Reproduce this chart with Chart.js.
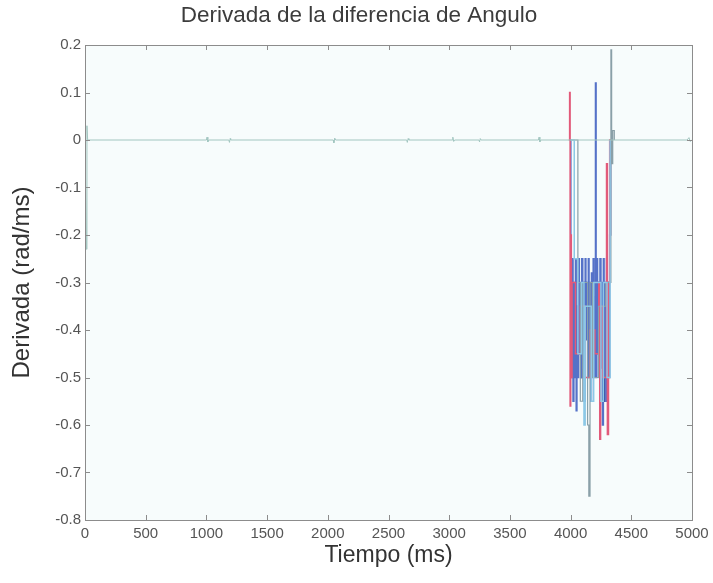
<!DOCTYPE html>
<html>
<head>
<meta charset="utf-8">
<script src="https://cdn.jsdelivr.net/npm/chart.js@4.4.1/dist/chart.umd.min.js"></script>
<style>
  html, body { margin: 0; padding: 0; background: #ffffff; }
  #wrap { width: 713px; height: 583px; }
</style>
</head>
<body>
<div id="wrap"><canvas id="c" width="713" height="583"></canvas></div>
<script>
// ---- data ----
const xTicks = [0, 500, 1000, 1500, 2000, 2500, 3000, 3500, 4000, 4500, 5000];
const yTicks = [0.2, 0.1, 0, -0.1, -0.2, -0.3, -0.4, -0.5, -0.6, -0.7, -0.8];

// baseline series (near zero over the whole record)
const baseTime = [0, 12, 16, 22, 30, 1000, 1005, 1012, 1020, 1185, 1190, 1196, 1200, 2045, 2050, 2057, 2065, 2650, 2655, 2662, 2668, 3025, 3030, 3037, 3045, 3245, 3250, 3256, 3262, 3735, 3740, 3747, 3755, 4960, 4975, 4985, 5000];
const baseVal  = [0, -0.23, 0.03, 0, 0, 0, 0.006, -0.004, 0, 0, -0.005, 0.003, 0, 0, -0.006, 0.004, 0, 0, -0.005, 0.003, 0, 0, 0.006, -0.003, 0, 0, -0.004, 0.003, 0, 0, 0.006, -0.004, 0, 0, 0.005, -0.003, 0];

// cluster series around 4000-4350 ms
const blueTime = [3995, 4002, 4008, 4015, 4020, 4027, 4033, 4040, 4046, 4052, 4060, 4066, 4072, 4080, 4086, 4092, 4100, 4106, 4112, 4120, 4126, 4132, 4140, 4146, 4152, 4160, 4166, 4172, 4180, 4186, 4192, 4200, 4205, 4210, 4216, 4222, 4230, 4236, 4242, 4250, 4256, 4262, 4270, 4276, 4282, 4290, 4296, 4302, 4310, 4316, 4322, 4330, 4340];
const blueVal  = [0, -0.38, -0.5, -0.25, -0.55, -0.3, -0.5, -0.25, -0.57, -0.35, -0.5, -0.25, -0.45, -0.3, -0.5, -0.25, -0.48, -0.3, -0.55, -0.25, -0.42, -0.3, -0.5, -0.25, -0.45, -0.3, -0.55, -0.28, -0.45, -0.25, -0.4, -0.5, 0.12, -0.5, -0.25, -0.45, -0.3, -0.5, -0.25, -0.48, -0.3, -0.6, -0.25, -0.5, -0.3, -0.55, -0.25, -0.45, -0.3, -0.5, -0.2, 0, 0];

const navyTime = [4040, 4055, 4070, 4085, 4100, 4115, 4130, 4145, 4160, 4175, 4190, 4205, 4220, 4235, 4250, 4265, 4280, 4295, 4310];
const navyVal  = [-0.35, -0.45, -0.32, -0.5, -0.38, -0.3, -0.42, -0.35, -0.5, -0.33, -0.45, -0.4, -0.3, -0.45, -0.35, -0.55, -0.4, -0.3, -0.35];

const redTime = [3985, 3992, 3996, 4001, 4006, 4012, 4040, 4080, 4120, 4160, 4200, 4232, 4240, 4247, 4265, 4296, 4303, 4312, 4322, 4340];
const redVal  = [0, 0.1, -0.56, -0.2, -0.5, -0.3, -0.45, -0.35, -0.5, -0.4, -0.45, -0.3, -0.63, -0.35, -0.5, -0.05, -0.62, -0.3, 0, 0];

const greyTime = [3995, 4060, 4080, 4100, 4140, 4150, 4160, 4180, 4230, 4290, 4322, 4332, 4338, 4347, 4360];
const greyVal  = [0, -0.3, -0.55, -0.3, -0.6, -0.75, -0.3, -0.5, -0.35, -0.3, -0.3, 0.19, -0.05, 0.02, 0];

const cyanTime = [4005, 4030, 4060, 4090, 4110, 4120, 4170, 4190, 4250, 4270, 4300, 4325];
const cyanVal  = [0, -0.25, -0.45, -0.3, -0.6, -0.35, -0.55, -0.3, -0.55, -0.3, -0.5, 0];

function pts(t, v) { return t.map((x, i) => ({ x: x, y: v[i] })); }

const FONT = "'Liberation Sans', Arial, sans-serif";

// MATLAB-like box with inward ticks, positions from the chart's own scales
const boxTicks = {
  id: 'boxTicks',
  afterDraw(chart) {
    const { ctx, chartArea: a, scales: { x, y } } = chart;
    ctx.save();
    ctx.strokeStyle = '#8c8c8c';
    ctx.lineWidth = 1;
    ctx.strokeRect(a.left + 0.5, a.top + 0.5, a.right - a.left, a.bottom - a.top);
    ctx.beginPath();
    const L = 5;
    xTicks.forEach(v => {
      const px = Math.round(x.getPixelForValue(v)) + 0.5;
      ctx.moveTo(px, a.bottom); ctx.lineTo(px, a.bottom - L);
      ctx.moveTo(px, a.top); ctx.lineTo(px, a.top + L);
    });
    yTicks.forEach(v => {
      const py = Math.round(y.getPixelForValue(v)) + 0.5;
      ctx.moveTo(a.left, py); ctx.lineTo(a.left + L, py);
      ctx.moveTo(a.right, py); ctx.lineTo(a.right - L, py);
    });
    ctx.stroke();
    ctx.restore();
  }
};

const areaBg = {
  id: 'areaBg',
  beforeDraw(chart) {
    const { ctx, chartArea: a } = chart;
    ctx.save();
    ctx.fillStyle = '#ffffff';
    ctx.fillRect(0, 0, chart.width, chart.height);
    ctx.fillStyle = '#f7fcfc';
    ctx.fillRect(a.left, a.top, a.right - a.left, a.bottom - a.top);
    ctx.restore();
  }
};

function ds(label, data, color, w, stepped) {
  return { label, data, borderColor: color, backgroundColor: color, borderWidth: w, pointRadius: 0, tension: 0, fill: false, stepped: stepped };
}

new Chart(document.getElementById('c'), {
  type: 'line',
  data: {
    datasets: [
      ds('base', pts(baseTime, baseVal), '#a2c6c0', 1, false),
      ds('cyan', pts(cyanTime, cyanVal), '#8cc8e6', 1.5, true),
      ds('grey', pts(greyTime, greyVal), '#8aa0a8', 1.2, true),
      ds('red', pts(redTime, redVal), '#e25a7a', 1.5, true),
      ds('blue', pts(blueTime, blueVal), '#5572c8', 1.5, true),
      ds('navy', pts(navyTime, navyVal), '#34489c', 1.5, true)
    ]
  },
  options: {
    responsive: false,
    animation: false,
    layout: { padding: { left: 26, right: 21, top: 0, bottom: 0 } },
    plugins: {
      legend: { display: false },
      tooltip: { enabled: false },
      title: {
        display: true,
        text: 'Derivada de la diferencia de Angulo',
        color: '#3c3c3c',
        font: { family: FONT, size: 22.5, weight: 'normal' },
        padding: { top: 2, bottom: 16 }
      }
    },
    scales: {
      x: {
        type: 'linear',
        min: 0, max: 5000,
        afterBuildTicks(s) { s.ticks = xTicks.map(v => ({ value: v })); },
        afterFit(s) { s.height = 63; s.paddingLeft = 0; s.paddingRight = 0; },
        grid: { display: false, drawTicks: false },
        border: { display: false },
        ticks: { color: '#555', font: { family: FONT, size: 15 }, padding: 5, maxRotation: 0, autoSkip: false,
          callback: v => String(v) },
        title: { display: true, text: 'Tiempo (ms)', color: '#333', font: { family: FONT, size: 23 }, padding: { top: 0, bottom: 14 } }
      },
      y: {
        type: 'linear',
        min: -0.8, max: 0.2,
        afterBuildTicks(s) { s.ticks = yTicks.map(v => ({ value: v })); },
        afterFit(s) { s.width = 59; s.paddingTop = 0; s.paddingBottom = 0; },
        grid: { display: false, drawTicks: false },
        border: { display: false },
        ticks: {
          color: '#555', font: { family: FONT, size: 15 }, padding: 4, autoSkip: false,
          callback: v => (Math.abs(v) < 1e-9 ? '0' : v.toFixed(1))
        },
        title: { display: true, text: 'Derivada (rad/ms)', color: '#333', font: { family: FONT, size: 24 }, padding: { top: -18, bottom: 0 } }
      }
    }
  },
  plugins: [areaBg, boxTicks]
});
</script>
</body>
</html>
